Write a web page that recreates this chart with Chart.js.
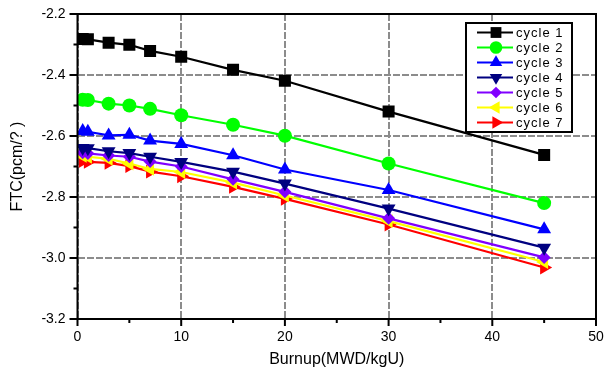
<!DOCTYPE html>
<html>
<head>
<meta charset="utf-8">
<script src="https://cdn.jsdelivr.net/npm/chart.js@4/dist/chart.umd.min.js"></script>
<style>
  html, body { margin: 0; padding: 0; background: #fff; }
  #wrap { width: 605px; height: 375px; }
</style>
</head>
<body>
<div id="wrap"><canvas id="myChart" width="605" height="375"></canvas></div>
<script>
// Dados
const burnup = [0.5, 1, 3, 5, 7, 10, 15, 20, 30, 45];
const cycle1 = [-2.282, -2.283, -2.294, -2.301, -2.321, -2.340, -2.383, -2.419, -2.520, -2.662];
const cycle2 = [-2.481, -2.482, -2.494, -2.500, -2.511, -2.532, -2.563, -2.599, -2.690, -2.820];
const cycle3 = [-2.584, -2.586, -2.598, -2.596, -2.615, -2.626, -2.663, -2.710, -2.777, -2.906];
const cycle4 = [-2.639, -2.640, -2.650, -2.656, -2.668, -2.685, -2.717, -2.756, -2.838, -2.966];
const cycle5 = [-2.655, -2.657, -2.664, -2.668, -2.684, -2.700, -2.742, -2.783, -2.870, -2.998];
const cycle6 = [-2.665, -2.668, -2.675, -2.690, -2.708, -2.718, -2.753, -2.795, -2.879, -3.013];
const cycle7 = [-2.682, -2.685, -2.688, -2.699, -2.717, -2.732, -2.767, -2.806, -2.890, -3.031];
const seriesNames = ['cycle 1', 'cycle 2', 'cycle 3', 'cycle 4', 'cycle 5', 'cycle 6', 'cycle 7'];
const xTicks = [0, 10, 20, 30, 40, 50];
const yTicks = [-3.2, -3.0, -2.8, -2.6, -2.4, -2.2];

const seriesData = [cycle1, cycle2, cycle3, cycle4, cycle5, cycle6, cycle7];
const colors = ['#000000', '#00ff00', '#0000ff', '#000080', '#8000ff', '#ffff00', '#ff0000'];
const styles = [
    { pointStyle: 'rect', rotation: 0, radius: 8.5 },
    { pointStyle: 'circle', rotation: 0, radius: 7 },
    { pointStyle: 'triangle', rotation: 0, radius: 8 },
    { pointStyle: 'triangle', rotation: 180, radius: 8 },
    { pointStyle: 'rectRot', rotation: 0, radius: 6.5 },
    { pointStyle: 'triangle', rotation: -90, radius: 8 },
    { pointStyle: 'triangle', rotation: 90, radius: 8 }
];

const FONT = "'Liberation Sans', Arial, sans-serif";

const datasets = seriesData.map((vals, i) => ({
    label: seriesNames[i],
    data: burnup.map((x, j) => ({ x: x, y: vals[j] })),
    borderColor: colors[i],
    backgroundColor: colors[i],
    borderWidth: 2.2,
    pointStyle: styles[i].pointStyle,
    pointRotation: styles[i].rotation,
    pointRadius: styles[i].radius,
    pointBorderWidth: 0,
    tension: 0
}));

// Moldura, marcas dos eixos e legenda
const framePlugin = {
    id: 'frame',
    afterDraw(chart) {
        const ctx = chart.ctx;
        const a = chart.chartArea;
        const xs = chart.scales.x, ys = chart.scales.y;
        ctx.save();
        ctx.strokeStyle = '#000';
        ctx.lineWidth = 2;
        ctx.strokeRect(a.left, a.top, a.right - a.left, a.bottom - a.top);
        ctx.beginPath();
        for (let v = 0; v <= 50; v += 5) {
            const px = xs.getPixelForValue(v);
            const len = v % 10 === 0 ? 7 : 4;
            ctx.moveTo(px, a.bottom);
            ctx.lineTo(px, a.bottom + len);
        }
        for (let k = 0; k <= 10; k++) {
            const v = -3.2 + k * 0.1;
            const py = ys.getPixelForValue(v);
            const len = k % 2 === 0 ? 8 : 4;
            ctx.moveTo(a.left, py);
            ctx.lineTo(a.left - len, py);
        }
        ctx.stroke();

        // legenda
        const bx = 466, by = 23, bw = 106, bh = 109;
        ctx.fillStyle = '#fff';
        ctx.fillRect(bx, by, bw, bh);
        ctx.lineWidth = 2;
        ctx.strokeStyle = '#000';
        ctx.strokeRect(bx, by, bw, bh);
        ctx.font = '13px ' + FONT;
        ctx.textBaseline = 'middle';
        ctx.textAlign = 'left';
        try { ctx.letterSpacing = '1px'; } catch (e) {}
        seriesNames.forEach((name, i) => {
            const y = 32.5 + i * 15;
            ctx.strokeStyle = colors[i];
            ctx.fillStyle = colors[i];
            ctx.lineWidth = 2;
            ctx.beginPath();
            ctx.moveTo(477, y);
            ctx.lineTo(513, y);
            ctx.stroke();
            Chart.helpers.drawPoint(ctx, {
                pointStyle: styles[i].pointStyle,
                rotation: styles[i].rotation,
                radius: styles[i].radius * 0.9,
                borderWidth: 0
            }, 496, y);
            ctx.fillStyle = '#000';
            ctx.fillText(name, 516, y + 0.5);
        });
        ctx.restore();
    }
};

var ctx = document.getElementById('myChart').getContext('2d');
var chart = new Chart(ctx, {
    type: 'line',
    data: { datasets: datasets },
    options: {
        responsive: false,
        animation: false,
        layout: { padding: { left: 0, top: 14, right: 9, bottom: 0 } },
        plugins: { legend: { display: false }, tooltip: { enabled: false } },
        scales: {
            x: {
                type: 'linear',
                min: 0, max: 50,
                afterBuildTicks: s => { s.ticks = xTicks.map(v => ({ value: v })); },
                afterFit: s => { s.height = 56; s.paddingLeft = 0; s.paddingRight = 0; },
                ticks: { padding: 10, color: '#000', font: { family: FONT, size: 14 } },
                grid: { color: '#8c8c8c', lineWidth: 2, drawTicks: false },
                border: { display: false, dash: [7, 2] },
                title: {
                    display: true, text: 'Burnup(MWD/kgU)', color: '#000',
                    font: { family: FONT, size: 16 }, padding: { top: 0, bottom: 6 }
                }
            },
            y: {
                type: 'linear',
                min: -3.2, max: -2.2,
                afterBuildTicks: s => { s.ticks = yTicks.map(v => ({ value: v })); },
                afterFit: s => { s.width = 77.5; s.paddingTop = 0; s.paddingBottom = 0; },
                ticks: {
                    padding: 12, color: '#000', font: { family: FONT, size: 14 },
                    callback: v => v.toFixed(1)
                },
                grid: { color: '#8c8c8c', lineWidth: 2, drawTicks: false },
                border: { display: false, dash: [7, 2] },
                title: {
                    display: true, text: 'FTC(pcm/? )', color: '#000',
                    font: { family: FONT, size: 16 }, padding: { top: 8, bottom: 0 }
                }
            }
        }
    },
    plugins: [framePlugin]
});
</script>
</body>
</html>
